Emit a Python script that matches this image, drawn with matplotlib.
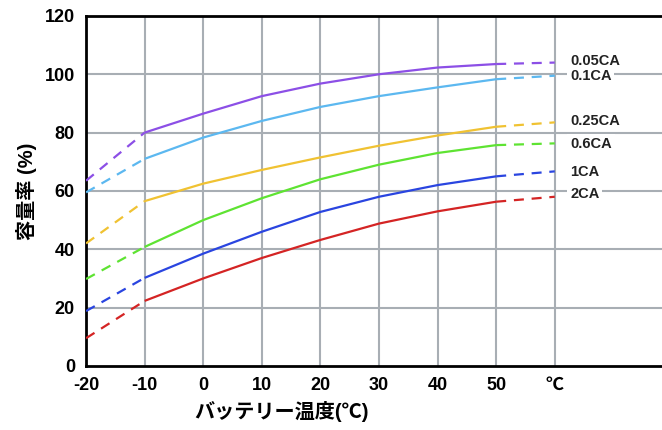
import numpy as np
import matplotlib.pyplot as plt

plt.rcParams['font.family'] = ['Liberation Sans', 'Noto Sans CJK JP', 'DejaVu Sans']

# Temperatures (°C) and capacity ratio (%)
temps = [-20, -10, 0, 10, 20, 30, 40, 50, 60]
cap_005 = [63.5, 80, 86.5, 92.5, 96.8, 100, 102.3, 103.5, 104]
cap_01 = [59.5, 71, 78.3, 84, 88.8, 92.5, 95.5, 98.3, 99.5]
cap_025 = [42, 56.5, 62.5, 67.2, 71.5, 75.5, 79, 82, 83.5]
cap_06 = [29.8, 40.8, 50, 57.5, 64, 69, 73, 75.7, 76.3]
cap_1 = [18.8, 30.2, 38.5, 46, 52.8, 58, 62, 65, 66.7]
cap_2 = [9.5, 22.3, 30, 37, 43.2, 48.8, 53, 56.3, 58]

labels = ['0.05CA', '0.1CA', '0.25CA', '0.6CA', '1CA', '2CA']
series = [cap_005, cap_01, cap_025, cap_06, cap_1, cap_2]
colors = ['#8c4fe6', '#5cb8f0', '#f0c232', '#5ee332', '#2a45e0', '#d42424']
label_y = [104.5, 99.4, 84, 76, 66.5, 59]

xticks = [-20, -10, 0, 10, 20, 30, 40, 50, 60]
xticklabels = ['-20', '-10', '0', '10', '20', '30', '40', '50', '℃']
yticks = [0, 20, 40, 60, 80, 100, 120]

fig = plt.figure(figsize=(6.62, 4.30), dpi=100)
ax = fig.add_axes([0.130, 0.149, 0.870, 0.814])

x = np.array(temps)
for vals, c, lab, ly in zip(series, colors, labels, label_y):
    v = np.array(vals)
    ax.plot(x[1:-1], v[1:-1], color=c, lw=1.6, solid_capstyle='butt', zorder=3)
    ax.plot(x[:2], v[:2], color=c, lw=1.6, dashes=(4.5, 3.5), zorder=3)
    ax.plot(x[-2:], v[-2:], color=c, lw=1.6, dashes=(4.5, 3.5), zorder=3)
    ax.text(62.6, ly, lab, fontsize=10.5, fontweight='bold', color='#222222',
            va='center', ha='left', zorder=4,
            bbox=dict(facecolor='white', edgecolor='none', pad=2))

ax.set_xlim(-20, 78.3)
ax.set_ylim(0, 120)

# grid drawn manually so vertical lines stop at 60
for t in xticks[1:]:
    ax.axvline(t, color='#a8aeb4', lw=1.5, zorder=1)
for t in yticks[1:-1]:
    ax.axhline(t, color='#a8aeb4', lw=1.5, zorder=1)

ax.set_xticks(xticks)
ax.set_xticklabels(xticklabels)
ax.set_yticks(yticks)
ax.tick_params(length=0, labelsize=13, pad=8)
for lbl in ax.get_xticklabels() + ax.get_yticklabels():
    lbl.set_fontweight('bold')

for side in ['left', 'bottom', 'top']:
    ax.spines[side].set_linewidth(2)
    ax.spines[side].set_color('black')
ax.spines['right'].set_visible(False)

ax.set_xlabel('バッテリー温度(℃)', fontsize=14.5, fontweight='bold')
ax.xaxis.set_label_coords(0.34, -0.1)
ax.set_ylabel('容量率 (%)', fontsize=14.5, fontweight='bold')
ax.yaxis.set_label_coords(-0.085, 0.5)

fig.savefig('out.png', dpi=100)
